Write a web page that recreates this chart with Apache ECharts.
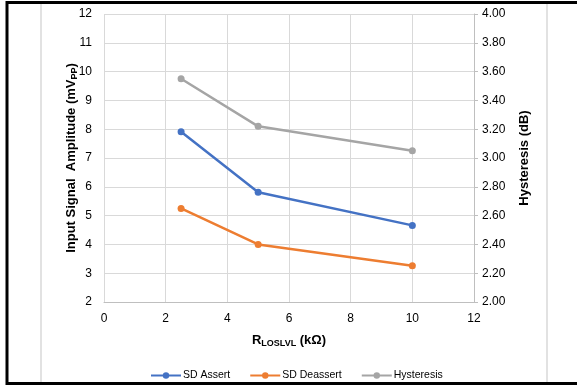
<!DOCTYPE html>
<html>
<head>
<meta charset="utf-8">
<script src="https://cdn.jsdelivr.net/npm/echarts@6/dist/echarts.min.js"></script>
<style>
html,body{margin:0;padding:0;background:#fff;}
#c{width:577px;height:388px;}
</style>
</head>
<body>
<div id="c"></div>
<script>
var xValues = [2.5, 5, 10];
var sdAssert = [7.91, 5.81, 4.66];
var sdDeassert = [5.25, 4.00, 3.26];
var hysteresis = [3.55, 3.22, 3.05];
var seriesNames = ['SD Assert', 'SD Deassert', 'Hysteresis'];

function pairs(xs, ys) { return xs.map(function (x, i) { return [x, ys[i]]; }); }

var chart = echarts.init(document.getElementById('c'));
var font = 'Liberation Sans, Arial, sans-serif';
var nameRich = {
  a: { fontFamily: font, fontSize: 13, fontWeight: 'bold', color: '#000' },
  s: { fontFamily: font, fontSize: 9, fontWeight: 'bold', color: '#000', padding: [6, 0, 0, 0] }
};
chart.setOption({
  animation: false,
  textStyle: { fontFamily: font },
  grid: { left: 104, right: 103, top: 14, bottom: 86, containLabel: false },
  graphic: [
    { type: 'polyline', shape: { points: [[577, 2.5], [7, 2.5], [7, 383.5], [577, 383.5]] }, style: { stroke: '#000', lineWidth: 3, fill: null }, z: 100 },
    { type: 'line', shape: { x1: 41, y1: 4, x2: 41, y2: 382 }, style: { stroke: '#d9d9d9', lineWidth: 1.5 } },
    { type: 'line', shape: { x1: 547, y1: 4, x2: 547, y2: 382 }, style: { stroke: '#d9d9d9', lineWidth: 1.5 } }
  ],
  legend: {
    bottom: 7, left: 150, padding: 0, itemWidth: 30, itemHeight: 8, itemGap: 19,
    textStyle: { fontFamily: font, fontSize: 10.5, color: '#000', padding: [0, 0, 0, -3] },
    data: seriesNames
  },
  xAxis: {
    type: 'value', min: 0, max: 12, interval: 2,
    name: '{a|R}{s|LOSLVL}{a| (kΩ)}', nameLocation: 'middle', nameGap: 31, nameMoveOverlap: false,
    nameTextStyle: { rich: nameRich },
    axisLine: { show: true, lineStyle: { color: '#bfbfbf' } },
    axisTick: { show: false },
    axisLabel: { fontSize: 12, color: '#000', margin: 11 },
    splitLine: { show: true, lineStyle: { color: '#d9d9d9' } }
  },
  yAxis: [
    {
      type: 'value', min: 2, max: 12, interval: 1, position: 'left',
      name: '{a|Input Signal  Amplitude (mV}{s|PP}{a|)}', nameLocation: 'middle', nameGap: 25, nameMoveOverlap: false,
      nameTextStyle: { rich: nameRich },
      axisLine: { show: false }, axisTick: { show: false },
      axisLabel: { fontSize: 12, color: '#000', margin: 12 },
      splitLine: { show: true, lineStyle: { color: '#d9d9d9' } }
    },
    {
      type: 'value', min: 2, max: 4, interval: 0.2, position: 'right',
      name: '{a|Hysteresis (dB)}', nameLocation: 'middle', nameGap: 44, nameMoveOverlap: false,
      nameTextStyle: { rich: nameRich },
      axisLine: { show: true, lineStyle: { color: '#bfbfbf' } },
      axisTick: { show: true, inside: false, length: 4, lineStyle: { color: '#bfbfbf' } },
      axisLabel: { fontSize: 12, color: '#000', margin: 8, formatter: function (v) { return v.toFixed(2); } },
      splitLine: { show: false }
    }
  ],
  series: [
    { name: seriesNames[0], type: 'line', yAxisIndex: 0, data: pairs(xValues, sdAssert), color: '#4472C4', symbol: 'circle', symbolSize: 7, lineStyle: { width: 2.5 } },
    { name: seriesNames[1], type: 'line', yAxisIndex: 0, data: pairs(xValues, sdDeassert), color: '#ED7D31', symbol: 'circle', symbolSize: 7, lineStyle: { width: 2.5 } },
    { name: seriesNames[2], type: 'line', yAxisIndex: 1, data: pairs(xValues, hysteresis), color: '#A5A5A5', symbol: 'circle', symbolSize: 7, lineStyle: { width: 2.5 } }
  ]
});
</script>
</body>
</html>
